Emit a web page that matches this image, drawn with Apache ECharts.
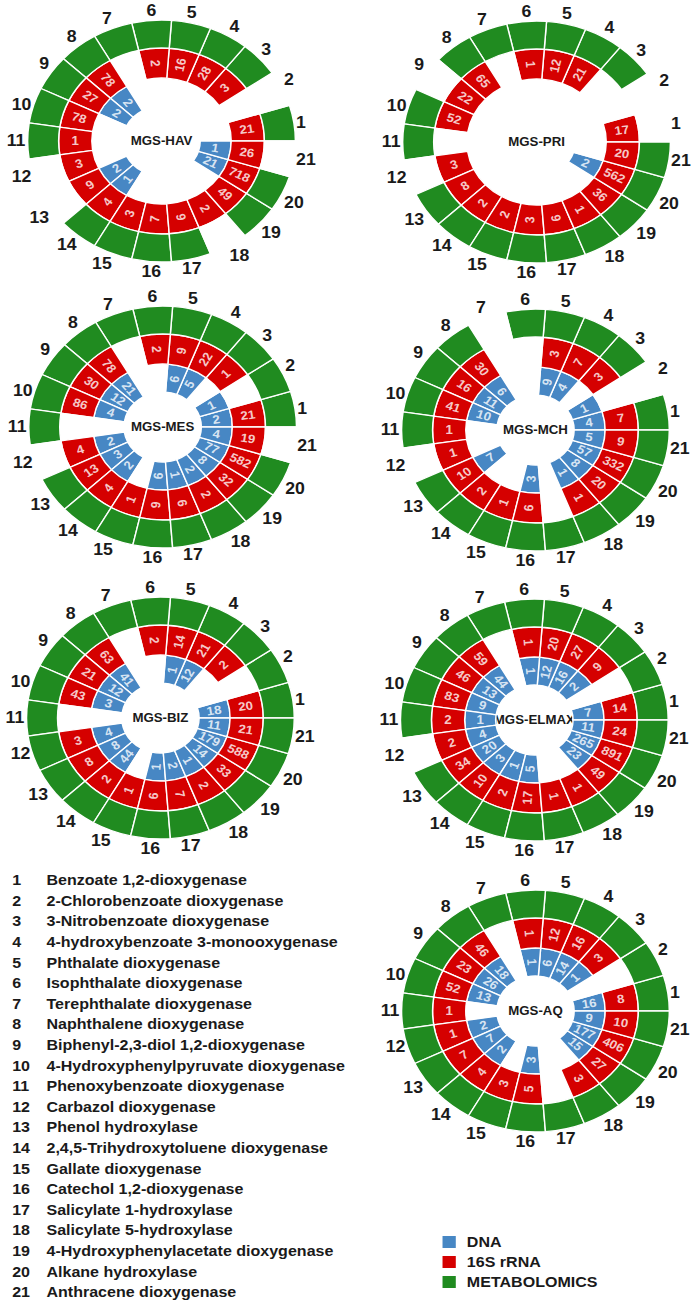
<!DOCTYPE html>
<html>
<head>
<meta charset="utf-8">
<script src="https://cdn.jsdelivr.net/npm/echarts@6.0.0/dist/echarts.min.js"></script>
<style>
html, body { margin: 0; padding: 0; background: #fff; overflow: hidden; }
/* the figure is slightly stretched horizontally, so draw it narrower and scale it */
#main { width: 630px; height: 1304px; transform: scaleX(1.1063); transform-origin: 0 0; }
</style>
</head>
<body>
<div id="main"></div>
<script>
var categories = ['1','2','3','4','5','6','7','8','9','10','11','12','13','14','15','16','17','18','19','20','21'];
var enzymes = [
    'Benzoate 1,2-dioxygenase', '2-Chlorobenzoate dioxygenase', '3-Nitrobenzoate dioxygenase',
    '4-hydroxybenzoate 3-monooxygenase', 'Phthalate dioxygenase', 'Isophthalate dioxygenase',
    'Terephthalate dioxygenase', 'Naphthalene dioxygenase', 'Biphenyl-2,3-diol 1,2-dioxygenase',
    '4-Hydroxyphenylpyruvate dioxygenase', 'Phenoxybenzoate dioxygenase', 'Carbazol dioxygenase',
    'Phenol hydroxylase', '2,4,5-Trihydroxytoluene dioxygenase', 'Gallate dioxygenase',
    'Catechol 1,2-dioxygenase', 'Salicylate 1-hydroxylase', 'Salicylate 5-hydroxylase',
    '4-Hydroxyphenylacetate dioxygenase', 'Alkane hydroxylase', 'Anthracene dioxygenase'
];

// counts per category 1..21 (null = not detected); metabolomics = detected or not
var dnaHAV   = [null,null,null,null,null,null,null,2,2,null,null,null,2,1,null,null,null,null,null,21,1];
var rrnaHAV  = [21,null,3,28,16,2,null,78,27,78,1,3,9,4,3,7,9,2,49,718,26];
var metabHAV = [1,0,1,1,1,1,1,1,1,1,1,0,0,1,1,1,1,0,1,1,0];

var dnaPRI   = [null,null,null,null,null,null,null,null,null,null,null,null,null,null,null,null,null,null,null,2,null];
var rrnaPRI  = [17,null,null,21,12,1,null,65,22,52,null,3,8,2,2,3,9,1,36,562,20];
var metabPRI = [0,0,1,1,1,1,1,1,0,1,1,0,1,1,1,1,1,1,1,1,1];

var dnaMES   = [2,1,null,5,6,null,null,21,12,4,null,2,3,2,null,6,1,2,8,77,4];
var rrnaMES  = [21,null,1,22,9,2,null,78,30,86,null,4,13,4,1,9,6,2,32,582,19];
var metabMES = [1,1,1,1,1,1,1,1,1,1,1,0,1,1,1,1,1,1,1,1,0];

var dnaMCH   = [4,1,null,4,9,null,null,6,11,10,null,null,7,null,null,3,null,1,8,57,5];
var rrnaMCH  = [7,null,3,7,3,null,null,30,16,41,1,1,10,2,1,6,null,1,20,332,9];
var metabMCH = [1,0,1,1,1,1,0,1,1,1,1,0,1,1,1,1,1,1,1,1,1];

var dnaBIZ   = [18,null,null,12,1,null,null,41,12,3,null,4,8,44,null,1,2,1,14,179,11];
var rrnaBIZ  = [20,null,2,21,14,2,null,63,21,43,null,3,8,2,1,6,7,2,33,588,21];
var metabBIZ = [1,1,1,1,1,1,1,1,1,1,1,1,1,1,1,1,1,1,1,1,1];

var dnaELMAX   = [7,null,2,16,12,1,null,44,13,9,1,4,20,3,1,5,null,null,23,265,11];
var rrnaELMAX  = [14,null,9,27,20,1,null,59,46,83,2,2,34,10,2,17,1,1,49,891,24];
var metabELMAX = [1,1,1,1,1,1,1,1,1,1,1,0,1,1,1,1,1,1,1,1,1];

var dnaAQ   = [16,null,1,14,6,1,null,18,26,13,null,2,7,2,null,3,null,null,15,177,9];
var rrnaAQ  = [8,null,3,16,12,1,null,46,23,52,1,1,7,4,3,5,null,3,27,406,10];
var metabAQ = [1,1,1,1,1,1,1,1,1,1,1,1,1,1,1,1,1,1,1,1,1];

var samples = [
    {name: 'MGS-HAV',   dna: dnaHAV,   rrna: rrnaHAV,   metab: metabHAV,   center: [146, 141]},
    {name: 'MGS-PRI',   dna: dnaPRI,   rrna: rrnaPRI,   metab: metabPRI,   center: [485, 142]},
    {name: 'MGS-MES',   dna: dnaMES,   rrna: rrnaMES,   metab: metabMES,   center: [147, 427]},
    {name: 'MGS-MCH',   dna: dnaMCH,   rrna: rrnaMCH,   metab: metabMCH,   center: [484, 430]},
    {name: 'MGS-BIZ',   dna: dnaBIZ,   rrna: rrnaBIZ,   metab: metabBIZ,   center: [145, 718]},
    {name: 'MGS-ELMAX', dna: dnaELMAX, rrna: rrnaELMAX, metab: metabELMAX, center: [483, 720]},
    {name: 'MGS-AQ',    dna: dnaAQ,    rrna: rrnaAQ,    metab: metabAQ,    center: [484, 1011]}
];

var BLUE = '#4787c4', RED = '#d50000', GREEN = '#208b20';
var FONT = '"Liberation Sans", Arial, sans-serif';
var HOLE = 35, OUTER = 121;

var myChart = echarts.init(document.getElementById('main'), null, {renderer: 'svg'});

// text along the radius, kept readable on the left half
function labelRotate(k) {
    var a = (k + 0.5) * 360 / categories.length;
    if (a <= 90) return a;
    if (a >= 270) return a - 360;
    return a - 180;
}

function ringSeries(i, name, values, thick, color) {
    return {
        type: 'bar', coordinateSystem: 'polar', polarIndex: i, stack: 'st' + i, name: name,
        barCategoryGap: '0%', silent: true,
        itemStyle: {color: color, borderColor: '#fff', borderWidth: 1.3},
        data: values.map(function (v) {
            return {value: thick, itemStyle: (v ? {} : {color: 'transparent'})};
        })
    };
}

function labelSeries(i, values, r) {
    var d = [];
    values.forEach(function (v, k) {
        if (v != null) d.push({name: String(v), value: [r, k], label: {rotate: labelRotate(k)}});
    });
    return {
        type: 'scatter', coordinateSystem: 'polar', polarIndex: i, name: 'lab',
        symbolSize: 1, itemStyle: {color: 'transparent'}, silent: true, z: 5,
        label: {show: true, position: 'inside', formatter: '{b}', color: '#fff',
                fontSize: 12, fontWeight: 'bold', fontFamily: FONT},
        data: d
    };
}

var polar = [], angleAxis = [], radiusAxis = [], series = [], graphic = [];

samples.forEach(function (s, i) {
    polar.push({center: s.center, radius: OUTER});
    angleAxis.push({
        polarIndex: i, type: 'category', data: categories, startAngle: 0, clockwise: false,
        axisLine: {show: false}, axisTick: {show: false}, splitLine: {show: false},
        axisLabel: {interval: 0, margin: 2, fontSize: 16, fontWeight: 'bold', color: '#1a1a1a', fontFamily: FONT}
    });
    radiusAxis.push({polarIndex: i, type: 'value', min: 0, max: OUTER, show: false});

    series.push({
        type: 'bar', coordinateSystem: 'polar', polarIndex: i, stack: 'st' + i, name: 'hole',
        barCategoryGap: '0%', silent: true, itemStyle: {color: 'transparent'},
        data: categories.map(function () { return HOLE; })
    });
    series.push(ringSeries(i, 'DNA', s.dna, 28, BLUE));
    series.push(ringSeries(i, '16S rRNA', s.rrna, 30, RED));
    series.push(ringSeries(i, 'METABOLOMICS', s.metab, 28, GREEN));
    series.push(labelSeries(i, s.dna, 49));
    series.push(labelSeries(i, s.rrna, 78));

    graphic.push({
        type: 'text', x: s.center[0], y: s.center[1], silent: true,
        style: {text: s.name, align: 'center', verticalAlign: 'middle', fill: '#1a1a1a',
                fontSize: 12, fontWeight: 'bold', fontFamily: FONT}
    });
});

// numbered key of the enzymes
enzymes.forEach(function (name, k) {
    var y = 880 + k * 20.6;
    graphic.push({
        type: 'text', x: 11, y: y, silent: true,
        style: {text: categories[k], align: 'left', verticalAlign: 'middle', fill: '#1a1a1a',
                fontSize: 14.5, fontWeight: 'bold', fontFamily: FONT}
    });
    graphic.push({
        type: 'text', x: 42, y: y, silent: true,
        style: {text: name, align: 'left', verticalAlign: 'middle', fill: '#1a1a1a',
                fontSize: 14.5, fontWeight: 'bold', fontFamily: FONT}
    });
});

var option = {
    animation: false,
    backgroundColor: '#fff',
    textStyle: {fontFamily: FONT},
    legend: {
        orient: 'vertical', left: 398, top: 1234, padding: 0, height: 62,
        itemWidth: 14, itemHeight: 14, itemGap: 4, icon: 'rect', selectedMode: false,
        data: ['DNA', '16S rRNA', 'METABOLOMICS'],
        textStyle: {fontSize: 14.5, fontWeight: 'bold', color: '#1a1a1a', padding: [0, 0, 0, 4]}
    },
    polar: polar,
    angleAxis: angleAxis,
    radiusAxis: radiusAxis,
    graphic: graphic,
    series: series
};

myChart.setOption(option);
</script>
</body>
</html>
